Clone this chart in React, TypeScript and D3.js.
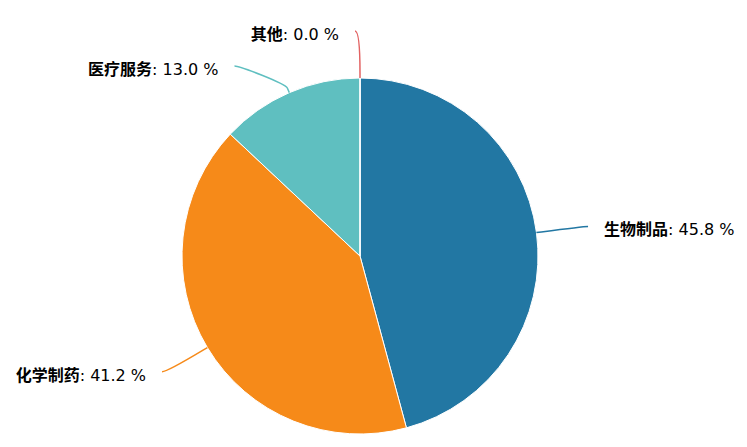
import React from "react";
import * as d3 from "d3";

const categories = ["生物制品", "化学制药", "医疗服务", "其他"];
const values = [45.8, 41.2, 13.0, 0.0];
const colors = ["#2277a3", "#f68a19", "#5fbfc0", "#e26262"];

const W = 747;
const H = 447;
const cx = 360;
const cy = 256;
const r = 178;
const labelDistance = 47;
const padding = 5;
const textGap = 11;
const spacing = 35;
const topBound = 31;

export default function App() {
  const data = categories.map((c, i) => ({ name: c, value: values[i], color: colors[i] }));
  const pie = d3.pie<any>().sort(null).value((d: any) => d.value);
  const arcs = pie(data);
  const arcGen = d3.arc<any>().innerRadius(0).outerRadius(r);
  const Rl = r + labelDistance;

  const labels = arcs.map((a) => {
    const mid = (a.startAngle + a.endAngle) / 2;
    const left = mid > Math.PI;
    const naturalY = cy - Rl * Math.cos(mid);
    return { a, mid, left, naturalY, y: naturalY, x: 0 };
  });

  // distribute per side
  [true, false].forEach((side) => {
    const group = labels.filter((l) => l.left === side).sort((p, q) => p.naturalY - q.naturalY);
    let prev = -Infinity;
    group.forEach((l) => {
      let y = Math.max(l.naturalY, topBound, prev + spacing);
      l.y = y;
      prev = y;
    });
  });

  labels.forEach((l) => {
    const useY = Math.abs(l.y - l.naturalY) < 2 ? l.naturalY : l.y;
    const s = Math.max(-1, Math.min(1, (useY - cy) / Rl));
    const dx = Math.cos(Math.asin(s)) * Rl + padding;
    l.x = cx + (l.left ? -dx : dx);
  });

  return (
    <svg
      width={W}
      height={H}
      style={{ position: "fixed", left: 0, top: 0, background: "#fff" }}
      fontFamily="'DejaVu Sans', 'Noto Sans CJK SC', sans-serif"
    >
      <g transform={`translate(${cx},${cy})`}>
        {arcs.map((a, i) => (
          <path key={i} d={arcGen(a) || ""} fill={a.data.color} stroke="#fff" strokeWidth={1} strokeLinejoin="round" />
        ))}
      </g>
      {labels.map((l, i) => {
        const ex = cx + r * Math.sin(l.mid);
        const ey = cy - r * Math.cos(l.mid);
        const bx = cx + (r + 5) * Math.sin(l.mid);
        const by = cy - (r + 5) * Math.cos(l.mid);
        const c2x = 2 * bx - ex;
        const c2y = 2 * by - ey;
        const c1x = l.x + (l.left ? 5 : -5);
        const path = `M${l.x},${l.y} C${c1x},${l.y} ${c2x},${c2y} ${bx},${by} L${ex},${ey}`;
        const tx = l.left ? l.x - textGap - padding : l.x + textGap + padding;
        return (
          <g key={i}>
            <path d={path} fill="none" stroke={l.a.data.color} strokeWidth={1.5} />
            <text
              x={tx}
              y={l.y + 3}
              dy="0.36em"
              textAnchor={l.left ? "end" : "start"}
              fontSize={16}
              fill="#000"
            >
              <tspan fontWeight="bold">{l.a.data.name}</tspan>
              <tspan>{`: ${l.a.data.value.toFixed(1)} %`}</tspan>
            </text>
          </g>
        );
      })}
    </svg>
  );
}
